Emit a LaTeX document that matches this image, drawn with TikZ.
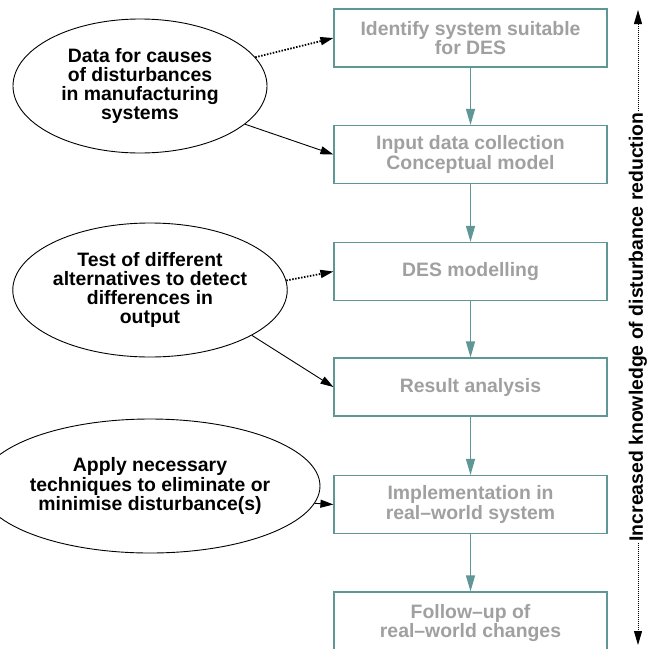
\documentclass[tikz,border=0pt]{standalone}
\usepackage{fontspec}
\setmainfont{Liberation Sans}
\usetikzlibrary{shapes.geometric,arrows.meta}
\definecolor{tealc}{RGB}{95,150,150}
\definecolor{grayt}{RGB}{160,160,160}
\begin{document}
\begin{tikzpicture}[x=1pt,y=-1pt,
  font=\fontsize{19.4}{19.2}\selectfont\bfseries,
  stepbox/.style={draw=tealc, line width=1.2pt, minimum width=273pt, minimum height=58pt, text=grayt, align=center, inner sep=0pt},
  oval/.style={ellipse, draw, line width=0.9pt, minimum width=254pt, minimum height=134pt, align=center, inner sep=0pt},
  flow/.style={-{Triangle[length=16pt,width=9pt]}, draw=tealc, fill=tealc, line width=1.2pt},
  link/.style={-{Triangle[length=13pt,width=8pt]}, line width=0.9pt},
  dlink/.style={link, line width=1.8pt, dash pattern=on 1.5pt off 1.5pt},
  vlink/.style={-{Triangle[length=14pt,width=8pt]}, line width=0.9pt, dash pattern=on 1pt off 1pt}]
\useasboundingbox (0,0) rectangle (652,648);
\fill[white] (0,0) rectangle (652,648);

\node[stepbox] (b1) at (470.5,38)  {Identify system suitable\\for DES};
\node[stepbox] (b2) at (470.5,154.5) {Input data collection\\Conceptual model};
\node[stepbox] (b3) at (470.5,271.5) {DES modelling};
\node[stepbox] (b4) at (470.5,387) {Result analysis};
\node[stepbox] (b5) at (470.5,504.5) {Implementation in\\real\textendash world system};
\node[stepbox, minimum height=62pt] (b6) at (470.5,623) {Follow\textendash up of\\real\textendash world changes};

\draw[flow] (b1) -- (b2);
\draw[flow] (b2) -- (b3);
\draw[flow] (b3) -- (b4);
\draw[flow] (b4) -- (b5);
\draw[flow] (b5) -- (b6);

\node[oval] (e1) at (140,86) {Data for causes\\of disturbances\\in manufacturing\\systems};
\node[oval] (e2) at (150,290) {Test of different\\alternatives to detect\\differences in\\output};
\node[oval] (e3) at (150,486) {Apply necessary\\techniques to eliminate or\\minimise disturbance(s)};

\draw[dlink] (e1.14) -- (b1.west);
\draw[link] (e1.-20) -- (b2.west);
\draw[dlink] (e2.4) -- (b3.west);
\draw[link] (e2.-24) -- (b4.west);
\draw[link] (e3.-6) -- (b5.west);

\coordinate (top) at (638,10);
\coordinate (bot) at (638,645);
\node[rotate=90, inner sep=1pt] (t) at (638,327) {Increased knowledge of disturbance reduction};
\draw[vlink] (t.east) -- (top);
\draw[vlink] (t.west) -- (bot);
\end{tikzpicture}
\end{document}
